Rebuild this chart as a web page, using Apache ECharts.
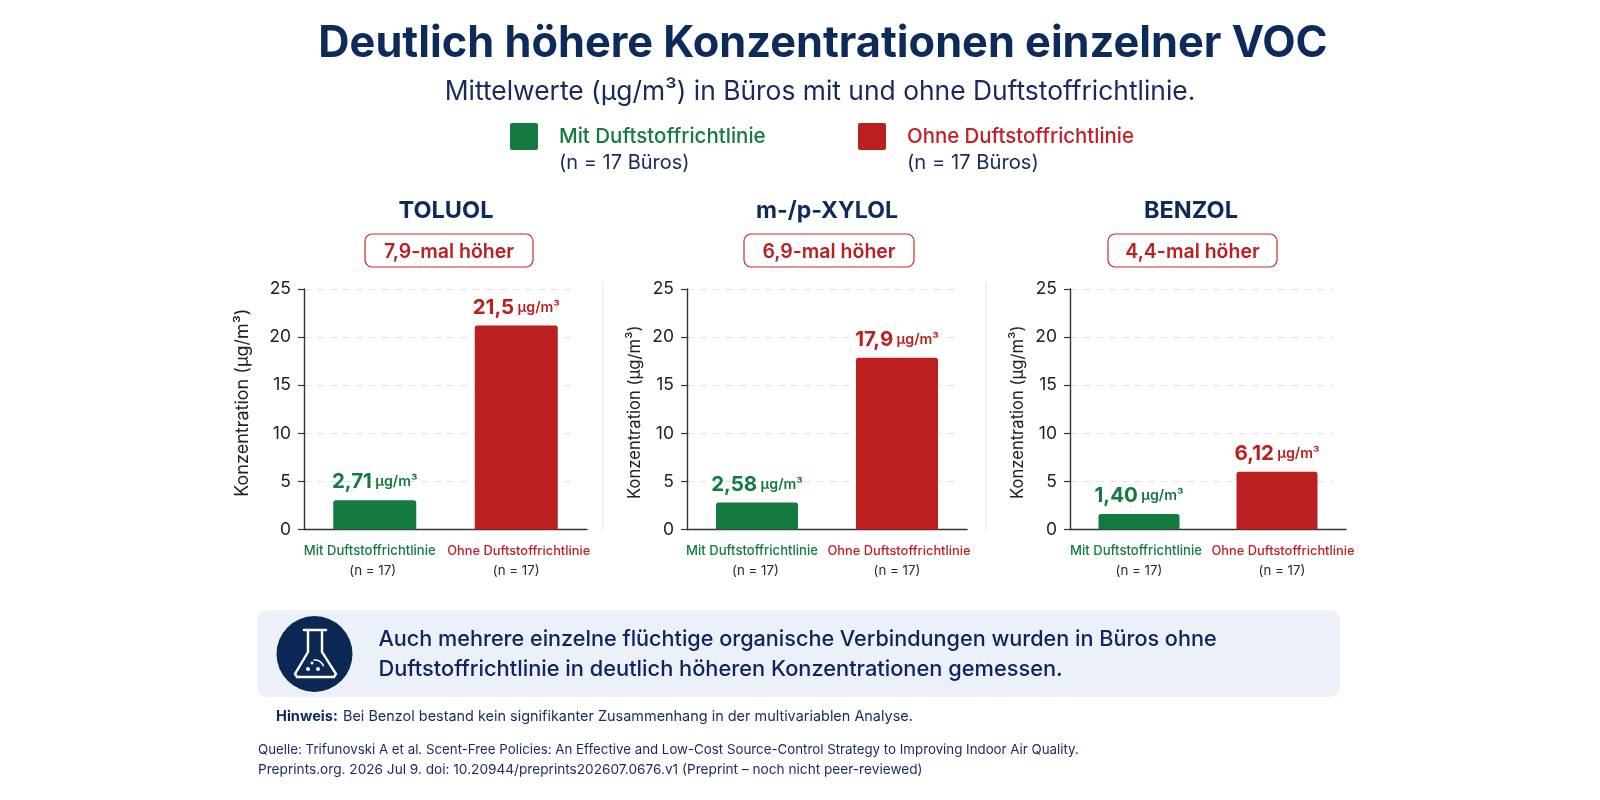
<!DOCTYPE html>
<html><head><meta charset="utf-8">
<style>html,body{margin:0;padding:0;background:#fff}#c{width:1600px;height:800px}</style>
<script src="https://cdn.jsdelivr.net/npm/echarts@6/dist/echarts.min.js"></script>
</head><body><div id="c"></div>
<script>
const categories = ['Mit Duftstoffrichtlinie', 'Ohne Duftstoffrichtlinie'];
const groupNote = '(n = 17)';
const panelNames = ['TOLUOL', 'm-/p-XYLOL', 'BENZOL'];
const ratioTexts = ['7,9-mal höher', '6,9-mal höher', '4,4-mal höher'];
// Bar heights
const toluolBars = [3.05, 21.2];
const xylolBars = [2.8, 17.85];
const benzolBars = [1.6, 6.0];
// Values as printed above the bars
const toluolLabels = ['2,71', '21,5'];
const xylolLabels = ['2,58', '17,9'];
const benzolLabels = ['1,40', '6,12'];
const yTicks = { min: 0, max: 25, interval: 5 };
const yName = 'Konzentration (µg/m³)';
const unit = 'µg/m³';

const NAVY = '#0d2b5a', INK = '#17295f', GREEN = '#157a40', RED = '#bb1f1f';
const FONT = 'Inter, "Noto Sans", sans-serif';

// layout per panel
const axisLeft = [304, 687, 1070];
const axisWidth = [283, 280, 276];
const gridEnd = [577, 955, 1333];
const nameGaps = [52, 44, 44];
const namePad = [[0, 0, 0, 13], [0, 6, 0, 0], [0, 6, 0, 0]];
const nameSize = [18, 16.6, 16.6];
const headX = [446, 827, 1191];
const headSize = [23.5, 23, 23.5];
const badgeBox = [[365, 168], [744, 170], [1108, 169]];
const sepX = [603, 986];
const TOP = 289, H = 240.5;
const barW = [83, 82, 81];
const greenShift = [10, 10, 6];
const redShift = [5, 4, 12];
const noteShift = [[4, 0], [3, 0], [0, 10]];

const barsList = [toluolBars, xylolBars, benzolBars];
const labelsList = [toluolLabels, xylolLabels, benzolLabels];
const colors = [GREEN, RED];

const grid = [], xAxis = [], yAxis = [], series = [];
panelNames.forEach((name, i) => {
  grid.push({ left: axisLeft[i], top: TOP, width: axisWidth[i], height: H });
  xAxis.push({
    type: 'category', gridIndex: i, data: categories,
    axisLine: { lineStyle: { color: '#333', width: 1.4 } },
    axisTick: { show: false },
    axisLabel: {
      interval: 0, margin: 12, lineHeight: 19.5,
      formatter: (v, idx) => (idx === 0 ? `{g|${v}}\n{n0|${groupNote}}` : `{r|${v}}\n{n1|${groupNote}}`),
      rich: {
        g: { fontFamily: FONT, fontSize: 13.1, fontWeight: 500, color: GREEN, lineHeight: 19.5, padding: [0, greenShift[i], 0, 0] },
        r: { fontFamily: FONT, fontSize: 12.85, fontWeight: 500, color: '#c01f25', lineHeight: 19.5, padding: [0, 0, 0, redShift[i]] },
        n0: { fontFamily: FONT, fontSize: 13.3, color: '#2a2a2a', lineHeight: 19.5, padding: [0, noteShift[i][0], 0, 0] },
        n1: { fontFamily: FONT, fontSize: 13.3, color: '#2a2a2a', lineHeight: 19.5, padding: [0, 0, 0, noteShift[i][1]] }
      }
    }
  });
  yAxis.push({
    type: 'value', gridIndex: i, min: yTicks.min, max: yTicks.max, interval: yTicks.interval,
    name: yName, nameLocation: 'middle', nameGap: nameGaps[i],
    nameTextStyle: { fontFamily: FONT, fontSize: nameSize[i], color: '#222', padding: namePad[i] },
    axisLine: { show: true, lineStyle: { color: '#333', width: 1.4 } },
    axisTick: { show: true, length: 6, lineStyle: { color: '#333', width: 1.2 } },
    axisLabel: { margin: 13, fontFamily: FONT, fontSize: 17.5, color: '#222' },
    splitLine: { show: true, lineStyle: { color: '#e2e2e2', type: [7, 6], width: 1 } }
  });
  series.push({
    type: 'bar', xAxisIndex: i, yAxisIndex: i, z: 3, barWidth: barW[i],
    data: barsList[i].map((v, k) => ({
      value: v,
      itemStyle: { color: colors[k], borderRadius: [2.5, 2.5, 0, 0] },
      label: {
        show: true, position: 'top', distance: 7.5,
        formatter: () => `{v|${labelsList[i][k]}} {u|${unit}}`,
        rich: {
          v: { fontFamily: FONT, fontSize: 20.5, fontWeight: 700, color: colors[k] },
          u: { fontFamily: FONT, fontSize: 14.2, fontWeight: 600, color: colors[k] }
        }
      }
    }))
  });
});

const txt = (x, y, text, size, weight, fill, align) => ({
  type: 'text', x, y, z: 5,
  style: { text, fontFamily: FONT, fontSize: size, fontWeight: weight, fill, align: align || 'left', verticalAlign: 'middle' }
});

const graphic = [];
// cover: horizontal gridlines stop short of the x axis end
axisLeft.forEach((l, i) => graphic.push({
  type: 'rect', z: 1, shape: { x: gridEnd[i], y: TOP - 4, width: l + axisWidth[i] - gridEnd[i] + 2, height: H - 10 },
  style: { fill: '#fff' }
}));
graphic.push(
  txt(823, 44, 'Deutlich höhere Konzentrationen einzelner VOC', 43.3, 700, NAVY, 'center'),
  txt(820, 92, 'Mittelwerte (µg/m³) in Büros mit und ohne Duftstoffrichtlinie.', 26.4, 400, INK, 'center'),
  { type: 'rect', z: 5, shape: { x: 510, y: 123, width: 28, height: 27, r: 2 }, style: { fill: GREEN } },
  txt(559, 137, 'Mit Duftstoffrichtlinie', 20.5, 500, GREEN),
  txt(559, 163, '(n = 17 Büros)', 20, 400, INK),
  { type: 'rect', z: 5, shape: { x: 858, y: 123, width: 28, height: 27, r: 2 }, style: { fill: RED } },
  txt(907, 137, 'Ohne Duftstoffrichtlinie', 20.4, 500, '#c01f25'),
  txt(907, 163, '(n = 17 Büros)', 20.2, 400, INK)
);
panelNames.forEach((name, i) => {
  graphic.push(txt(headX[i], 211, name, headSize[i], 700, NAVY, 'center'));
  graphic.push({ type: 'rect', z: 5, shape: { x: badgeBox[i][0], y: 234, width: badgeBox[i][1], height: 33, r: 7 },
    style: { fill: '#fff', stroke: '#c9282d', lineWidth: 1.2 } });
  graphic.push(txt(badgeBox[i][0] + badgeBox[i][1] / 2, 252.5, ratioTexts[i], 19.5, 600, RED, 'center'));
});
sepX.forEach(x => graphic.push({ type: 'line', z: 5, shape: { x1: x, y1: 282, x2: x, y2: 530 }, style: { stroke: '#dde2ea', lineWidth: 1 } }));

// call-out panel
graphic.push(
  { type: 'rect', z: 4, shape: { x: 257, y: 610, width: 1083, height: 87, r: 11 }, style: { fill: '#ebf0f9' } },
  { type: 'circle', z: 5, shape: { cx: 314.5, cy: 654, r: 38 }, style: { fill: '#0b2753' } },
  { type: 'polyline', z: 6, shape: { points: [[308, 630], [308, 652], [295, 674], [297, 677], [334, 677], [336, 674], [322, 652], [322, 630]] },
    style: { fill: 'none', stroke: '#fff', lineWidth: 2.4 } },
  { type: 'line', z: 6, shape: { x1: 304, y1: 630, x2: 326, y2: 630 }, style: { stroke: '#fff', lineWidth: 2.6, lineCap: 'round' } },
  { type: 'circle', z: 6, shape: { cx: 308, cy: 669, r: 2 }, style: { fill: '#fff' } },
  { type: 'circle', z: 6, shape: { cx: 318, cy: 669, r: 2 }, style: { fill: '#fff' } },
  { type: 'circle', z: 6, shape: { cx: 312, cy: 663, r: 1.5 }, style: { fill: '#fff' } },
  { type: 'arc', z: 6, shape: { cx: 315, cy: 669, r: 9, startAngle: -Math.PI * 0.55, endAngle: -Math.PI * 0.1 }, style: { fill: 'none', stroke: '#fff', lineWidth: 1.6 } },
  txt(378.5, 639, 'Auch mehrere einzelne flüchtige organische Verbindungen wurden in Büros ohne', 21.62, 500, '#0f2560'),
  txt(378.5, 669, 'Duftstoffrichtlinie in deutlich höheren Konzentrationen gemessen.', 21.8, 500, '#0f2560'),
  txt(276, 717, 'Hinweis:', 14.6, 700, NAVY),
  txt(343, 717, 'Bei Benzol bestand kein signifikanter Zusammenhang in der multivariablen Analyse.', 14.45, 400, INK),
  txt(258, 750, 'Quelle: Trifunovski A et al. Scent-Free Policies: An Effective and Low-Cost Source-Control Strategy to Improving Indoor Air Quality.', 13.3, 400, INK),
  txt(258, 770, 'Preprints.org. 2026 Jul 9. doi: 10.20944/preprints202607.0676.v1 (Preprint – noch nicht peer-reviewed)', 13.65, 400, INK)
);

const chart = echarts.init(document.getElementById('c'), null, { renderer: 'canvas' });
chart.setOption({ backgroundColor: '#fff', animation: false, grid, xAxis, yAxis, series, graphic });
</script></body></html>
